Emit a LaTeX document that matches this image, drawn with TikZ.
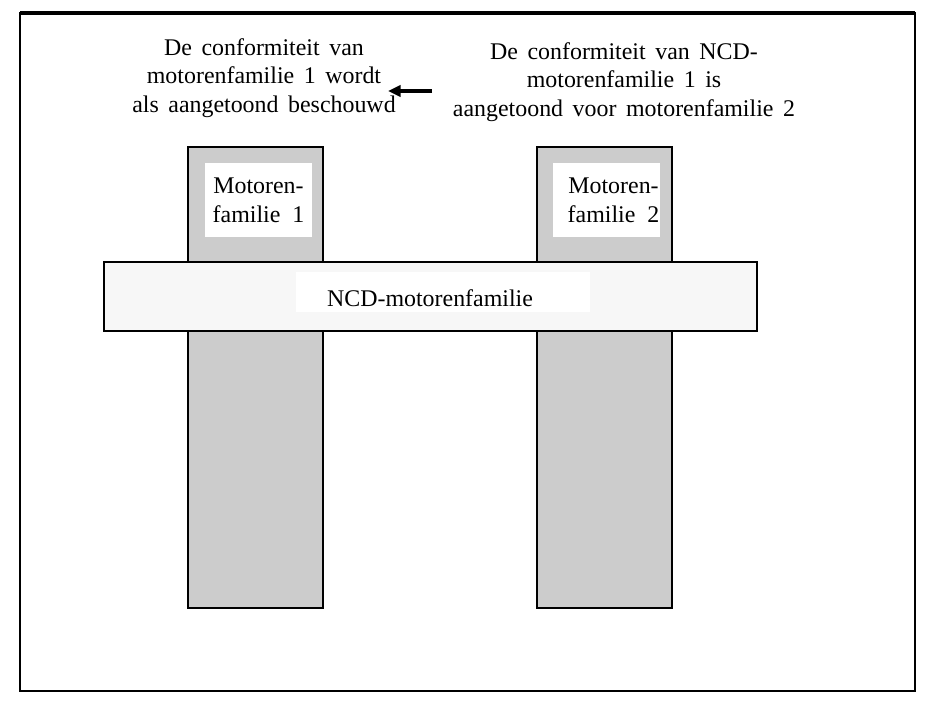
\documentclass[tikz,border=0pt]{standalone}
\usepackage{fontspec}
\setmainfont{Liberation Serif}
\usepackage{tikz}
\usetikzlibrary{arrows.meta,positioning}

\begin{document}
\begin{tikzpicture}[x=0.025cm,y=-0.025cm,
    column/.style={draw=black,line width=0.9pt,fill=black!20,minimum width=3.375cm,minimum height=11.525cm,inner sep=0pt},
    famlabel/.style={fill=white,minimum width=2.675cm,minimum height=1.85cm,align=center,inner sep=0pt},
    note/.style={align=center,inner sep=0pt,execute at begin node={\spaceskip=0.4em plus 0.1em}},
    pointer/.style={-{Triangle[length=9pt,width=8pt]},line width=2.4pt}]
  \useasboundingbox (0,0) rectangle (935,703);
  \fontsize{17}{20.5}\selectfont
  % frame
  \draw[line width=1.3pt] (20,13) rectangle (915,691);
  \draw[line width=2.4pt] (20,13) -- (915,13);
  % the two engine families
  \node[column] (col1) at (255.5,377.5) {};
  \node[column] (col2) at (604.5,377.5) {};
  \node[famlabel] (fam1) at (258.5,200) {Motoren-\\familie~~1};
  \node[famlabel] (fam2) at (606.5,200) {\hspace*{10pt}Motoren-\\\hspace*{10pt}familie~~2};
  % NCD family across both
  \node[draw=black,line width=0.9pt,fill=black!3,minimum width=16.325cm,minimum height=1.725cm] (ncd) at (430.5,296.5) {};
  \fill[white] (296,272) rectangle (590,312);
  \node (ncdtext) at (430,298) {NCD-motorenfamilie};
  % notes
  \node[note] (lnote) at (264,78) {De conformiteit van\\motorenfamilie 1 wordt\\als aangetoond beschouwd};
  \node[note] (rnote) at (624,82) {De conformiteit van NCD-\\motorenfamilie 1 is\\aangetoond voor motorenfamilie 2};
  \coordinate (pstart) at (432,91);
  \coordinate (pend) at (388,91);
  \draw[pointer] (pstart) -- (pend);
\end{tikzpicture}
\end{document}
